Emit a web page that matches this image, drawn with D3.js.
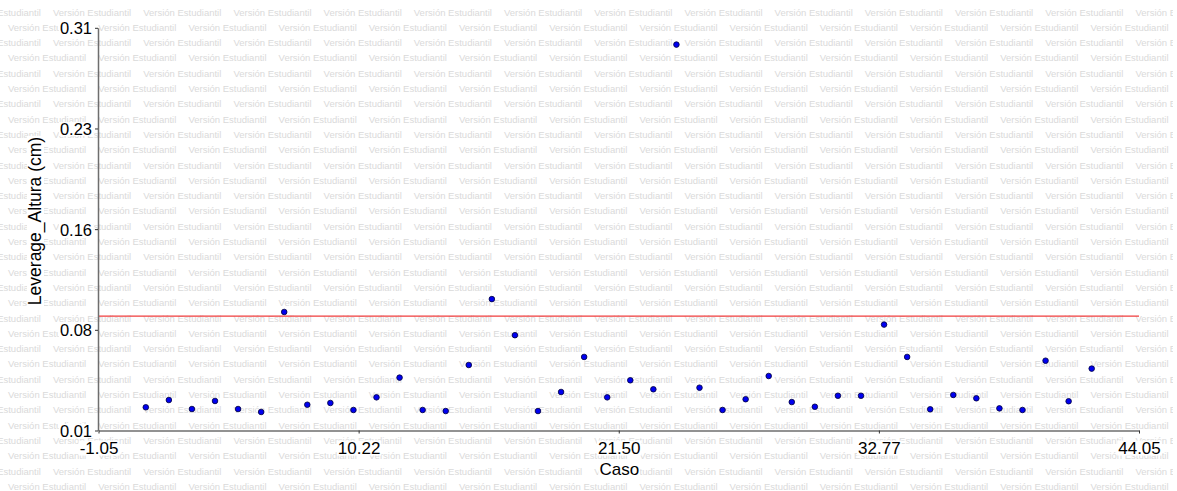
<!DOCTYPE html>
<html>
<head>
<meta charset="utf-8">
<script src="https://cdn.jsdelivr.net/npm/d3@7"></script>
<style>
  html, body { margin: 0; padding: 0; background: #fff; }
  svg { display: block; }
</style>
</head>
<body>
<svg id="chart" width="1177" height="491"></svg>
<script>
// ---- data ----
const cases = [1,2,3,4,5,6,7,8,9,10,11,12,13,14,15,16,17,18,19,20,21,22,23,24,25,26,27,28,29,30,31,32,33,34,35,36,37,38,39,40,41,42];
const leverage = [0.0273,0.0327,0.0260,0.0320,0.0260,0.0238,0.0983,0.0292,0.0305,0.0253,
                  0.0347,0.0494,0.0253,0.0245,0.0588,0.1079,0.0810,0.0245,0.0387,0.0648,
                  0.0347,0.0474,0.0407,0.2975,0.0419,0.0253,0.0333,0.0506,0.0312,0.0277,
                  0.0359,0.0359,0.0889,0.0648,0.0258,0.0365,0.0340,0.0265,0.0253,0.0620,
                  0.0318,0.0561];
const threshold = 0.0952;
const xDomain = [-1.05, 44.05];
const yDomain = [0.01, 0.31];
const xTickLabels = ["-1.05","10.22","21.50","32.77","44.05"];
const yTickLabels = ["0.01","0.08","0.16","0.23","0.31"];
const xTitle = "Caso";
const yTitle = "Leverage_Altura (cm)";
const watermark = "Versión Estudiantil";

// ---- layout ----
const W = 1177, H = 491;
const svg = d3.select("#chart");
const x = d3.scaleLinear().domain(xDomain).range([98.5, 1139]);
const y = d3.scaleLinear().domain(yDomain).range([430.5, 27.8]);
const FONT = "'Liberation Sans', Arial, sans-serif";

// watermark background
svg.append("clipPath").attr("id", "wmclip").append("rect")
  .attr("x", 0).attr("y", 0).attr("width", 1173).attr("height", H);
const wm = svg.append("g").attr("clip-path", "url(#wmclip)");
const rowStep = 15.3, colStep = 90.2;
for (let k = 0; k < 33; k++) {
  const yy = 12 + k * rowStep;
  const x0 = (k % 2 === 0) ? 53 - colStep : 8;
  for (let c = 0; c < 15; c++) {
    wm.append("text")
      .attr("x", x0 + c * colStep)
      .attr("y", yy + 3.5)
      .attr("font-family", FONT)
      .attr("font-size", 9.5)
      .attr("fill", "#dadada")
      .text(watermark);
  }
}

function whiteBg(sel, pad) {
  sel.each(function() {
    const b = this.getBBox();
    const node = d3.select(this);
    const r = document.createElementNS("http://www.w3.org/2000/svg", "rect");
    this.parentNode.insertBefore(r, this);
    d3.select(r).attr("x", b.x - pad).attr("y", b.y + 2)
      .attr("width", b.width + 2 * pad).attr("height", Math.max(0, b.height - 4))
      .attr("fill", "#fff")
      .attr("transform", node.attr("transform"));
  });
}

// threshold line
svg.append("line")
  .attr("x1", x(xDomain[0])).attr("x2", x(xDomain[1]))
  .attr("y1", y(threshold)).attr("y2", y(threshold))
  .attr("stroke", "#f03c3c").attr("stroke-width", 1.2);

// axes
const xTicks = d3.range(5).map(i => xDomain[0] + i * (xDomain[1] - xDomain[0]) / 4);
const yTicks = d3.range(5).map(i => yDomain[0] + i * (yDomain[1] - yDomain[0]) / 4);

const xAxis = svg.append("g").attr("transform", `translate(0,${y(yDomain[0])})`)
  .call(d3.axisBottom(x).tickValues(xTicks).tickFormat((d, i) => xTickLabels[i]).tickSize(3).tickSizeOuter(0));
const yAxis = svg.append("g").attr("transform", `translate(${x(xDomain[0]) - 0.5},0)`)
  .call(d3.axisLeft(y).tickValues(yTicks).tickFormat((d, i) => yTickLabels[i]).tickSize(3).tickSizeOuter(0));

[xAxis, yAxis].forEach(a => {
  a.select(".domain").attr("stroke", "#6e6e6e").attr("stroke-width", 1.5);
  a.selectAll(".tick line").attr("stroke", "#333");
  a.selectAll(".tick text").attr("font-family", FONT).attr("fill", "#000");
});
xAxis.selectAll(".tick text").attr("font-size", 17).attr("dy", "0.71em").attr("y", 11);
yAxis.selectAll(".tick text").attr("font-size", 16.5).attr("x", -6).attr("dy", "0.36em");
whiteBg(xAxis.selectAll(".tick text"), 1);
whiteBg(yAxis.selectAll(".tick text"), 1);

// axis titles
const xt = svg.append("text")
  .attr("x", (x(xDomain[0]) + x(xDomain[1])) / 2 + 0.5)
  .attr("y", 475)
  .attr("text-anchor", "middle")
  .attr("font-family", FONT).attr("font-size", 17).attr("fill", "#000")
  .text(xTitle);
const yt = svg.append("text")
  .attr("transform", "translate(41,221) rotate(-90)")
  .attr("text-anchor", "middle")
  .attr("font-family", FONT).attr("font-size", 17.5).attr("fill", "#000")
  .text(yTitle);
whiteBg(xt, 1);
whiteBg(yt, 1);

// points
svg.append("g").selectAll("circle")
  .data(cases.map((c, i) => ({ c, v: leverage[i] })))
  .join("circle")
  .attr("cx", d => x(d.c))
  .attr("cy", d => y(d.v))
  .attr("r", 2.8)
  .attr("fill", "#0000f0")
  .attr("stroke", "#00003a")
  .attr("stroke-width", 0.8);
</script>
</body>
</html>
